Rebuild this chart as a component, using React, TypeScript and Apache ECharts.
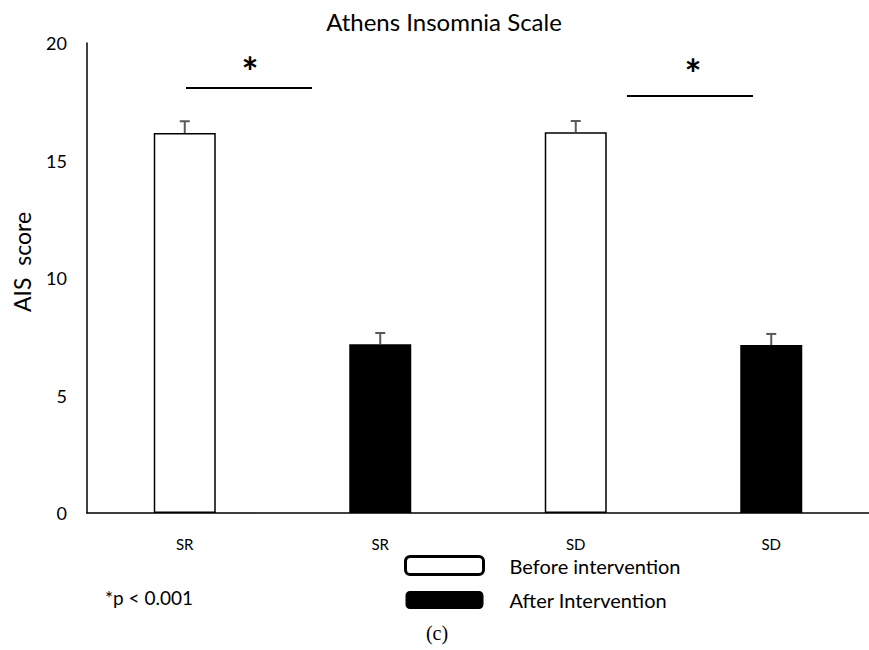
import React, { useEffect, useRef } from "react";
import * as echarts from "echarts";

const categories = ["SR", "SR", "SD", "SD"];
const beforeValues: (number | string)[] = [16.17, "-", 16.2, "-"];
const afterValues: (number | string)[] = ["-", 7.18, "-", 7.15];
const means = [16.17, 7.18, 16.2, 7.15];
const errors = [0.5, 0.48, 0.48, 0.47];
const yTicks = { min: 0, max: 20, interval: 5 };
const legendNames = ["Before intervention", "After Intervention"];

const FONT = "Lato, 'Open Sans', sans-serif";

export default function App() {
  const ref = useRef<HTMLDivElement>(null);
  useEffect(() => {
    document.body.style.margin = "0";
    if (!ref.current) return;
    const chart = echarts.init(ref.current, undefined, { renderer: "svg" });
    const errData = means.map((m, i) => [i, m, errors[i]]);
    chart.setOption({
      animation: false,
      backgroundColor: "#fff",
      title: {
        text: "Athens Insomnia Scale",
        left: 444,
        top: 9,
        padding: 0,
        textAlign: "center",
        textStyle: { fontFamily: FONT, fontSize: 24, fontWeight: "normal", color: "#000" },
      },
      grid: { left: 87, right: 0, top: 43, bottom: 137 },
      xAxis: {
        type: "category",
        data: categories,
        axisLine: { show: true, lineStyle: { color: "#000", width: 1.5 } },
        axisTick: { show: false },
        axisLabel: { color: "#000", fontSize: 15, lineHeight: 15, fontFamily: FONT, margin: 23 },
      },
      yAxis: {
        type: "value",
        min: yTicks.min,
        max: yTicks.max,
        interval: yTicks.interval,
        axisLine: { show: true, lineStyle: { color: "#000", width: 1.5 } },
        axisTick: { show: false },
        splitLine: { show: false },
        axisLabel: { color: "#000", fontSize: 18, fontFamily: FONT, margin: 20 },
      },
      legend: {
        orient: "vertical",
        left: 404,
        top: 555,
        padding: 0,
        itemWidth: 78,
        itemHeight: 18,
        itemGap: 14,
        icon: "roundRect",
        selectedMode: false,
        textStyle: { fontFamily: FONT, fontSize: 20, lineHeight: 19, color: "#000", padding: [0, 0, 0, 21] },
        data: [
          { name: legendNames[0], itemStyle: { color: "#fff", borderColor: "#000", borderWidth: 3 } },
          { name: legendNames[1], itemStyle: { color: "#000", borderColor: "#000", borderWidth: 0 } },
        ],
      },
      series: [
        {
          name: legendNames[0],
          type: "bar",
          data: beforeValues,
          barWidth: 62,
          barGap: "-100%",
          itemStyle: { color: "#fff", borderColor: "#000", borderWidth: 1.5 },
        },
        {
          name: legendNames[1],
          type: "bar",
          data: afterValues,
          barWidth: 62,
          itemStyle: { color: "#000", borderColor: "#000", borderWidth: 0 },
        },
        {
          type: "custom",
          name: "error",
          data: errData,
          z: 10,
          renderItem: (params: any, api: any) => {
            const x = api.value(0);
            const m = api.value(1);
            const e = api.value(2);
            const p0 = api.coord([x, m]);
            const p1 = api.coord([x, m + e]);
            const half = 5;
            const st = { stroke: "#595959", lineWidth: 2 };
            return {
              type: "group",
              children: [
                { type: "line", shape: { x1: p0[0], y1: p0[1], x2: p1[0], y2: p1[1] }, style: st },
                { type: "line", shape: { x1: p1[0] - half, y1: p1[1], x2: p1[0] + half, y2: p1[1] }, style: st },
              ],
            };
          },
        },
      ],
      graphic: [
        {
          type: "text",
          x: 22,
          y: 262,
          rotation: Math.PI / 2,
          style: {
            text: "AIS  score",
            fontFamily: FONT,
            fontSize: 23,
            fill: "#000",
            textAlign: "center",
            textVerticalAlign: "middle",
          },
        },
        { type: "line", shape: { x1: 186, y1: 88, x2: 312, y2: 88 }, style: { stroke: "#000", lineWidth: 2 } },
        { type: "line", shape: { x1: 627, y1: 96, x2: 753, y2: 96 }, style: { stroke: "#000", lineWidth: 2 } },
        {
          type: "text",
          x: 250,
          y: 72,
          style: { text: "*", fontFamily: FONT, fontSize: 40, fontWeight: "bold", fill: "#000", textAlign: "center", textVerticalAlign: "middle" },
        },
        {
          type: "text",
          x: 693,
          y: 74,
          style: { text: "*", fontFamily: FONT, fontSize: 40, fontWeight: "bold", fill: "#000", textAlign: "center", textVerticalAlign: "middle" },
        },
        {
          type: "text",
          x: 105,
          y: 597,
          style: { text: "*p < 0.001", fontFamily: FONT, fontSize: 19, fill: "#000", textAlign: "left", textVerticalAlign: "middle" },
        },
        {
          type: "text",
          x: 437,
          y: 633,
          style: { text: "(c)", fontFamily: "'Liberation Serif', 'DejaVu Serif', serif", fontSize: 20, fill: "#000", textAlign: "center", textVerticalAlign: "middle" },
        },
      ],
    });
    return () => chart.dispose();
  }, []);
  return <div ref={ref} style={{ width: 869, height: 650 }} />;
}
